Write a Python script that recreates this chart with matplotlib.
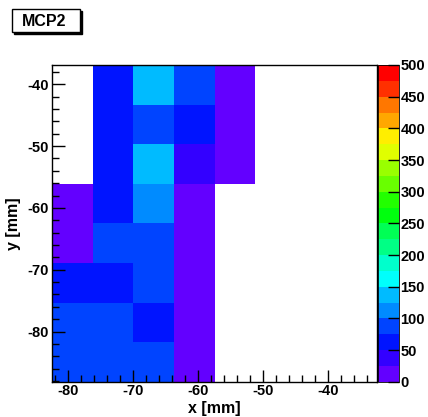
import colorsys
import matplotlib
matplotlib.use("Agg")
import matplotlib.pyplot as plt
import numpy as np
from matplotlib.colors import ListedColormap, BoundaryNorm
from matplotlib.patches import Rectangle
from matplotlib.ticker import MultipleLocator

plt.rcParams['font.family'] = ['Liberation Sans', 'DejaVu Sans']
plt.rcParams['font.weight'] = 'bold'
plt.rcParams['axes.labelweight'] = 'bold'
plt.rcParams['axes.unicode_minus'] = False

# bin edges (mm)
x_edges = [-82.5, -76.25, -70.0, -63.75, -57.5, -51.25, -45.0, -38.75, -32.5]
y_edges = [-88.1, -81.7, -75.3, -68.9, -62.5, -56.1, -49.7, -43.3, -36.9]

# counts per bin, rows from bottom (y=-88) to top, columns left to right
counts = [
    [80, 90, 84, 11, 0, 0, 0, 0],
    [82, 85, 60, 13, 0, 0, 0, 0],
    [55, 63, 86, 16, 0, 0, 0, 0],
    [14, 88, 92, 20, 0, 0, 0, 0],
    [8, 58, 110, 18, 0, 0, 0, 0],
    [0, 62, 145, 40, 15, 0, 0, 0],
    [0, 60, 85, 65, 12, 0, 0, 0],
    [0, 60, 140, 90, 10, 0, 0, 0],
]

title = "MCP2"
z_levels = np.arange(0, 525, 25)

# ROOT style "pretty" palette (50 hues, violet -> red), sampled on 20 contours
pretty = [colorsys.hls_to_rgb((280 - (i + 1) * 5.6) / 360.0, 0.5, 1.0) for i in range(50)]
ncont = len(z_levels) - 1
pal = [pretty[int((j + 0.99) * 50 / ncont)] for j in range(ncont)]
cmap = ListedColormap(pal)
cmap.set_bad("white")
norm = BoundaryNorm(z_levels, cmap.N)

fig = plt.figure(figsize=(4.28, 4.17), dpi=100)
ax = fig.add_axes([52 / 428, 1 - 381.7 / 417, 325 / 428, 316.7 / 417])
cax = fig.add_axes([378 / 428, 1 - 381.7 / 417, 21 / 428, 316.7 / 417])

z = np.ma.masked_less_equal(np.array(counts, dtype=float), 0)
mesh = ax.pcolormesh(x_edges, y_edges, z, cmap=cmap, norm=norm)
ax.set_xlim(x_edges[0], x_edges[-1])
ax.set_ylim(y_edges[0], y_edges[-1])

ax.xaxis.set_major_locator(MultipleLocator(10))
ax.xaxis.set_minor_locator(MultipleLocator(2))
ax.yaxis.set_major_locator(MultipleLocator(10))
ax.yaxis.set_minor_locator(MultipleLocator(2))
ax.tick_params(which="both", direction="in", top=False, right=False, width=1.0,
               labelsize=10.5, pad=2)
ax.tick_params(which="major", length=9)
ax.tick_params(which="minor", length=5)
for s in ax.spines.values():
    s.set_linewidth(1.0)

ax.set_xlabel("x [mm]", fontsize=11.5, labelpad=2)
ax.set_ylabel("y [mm]", fontsize=11.5, labelpad=5)

cb = fig.colorbar(mesh, cax=cax, ticks=np.arange(0, 550, 50))
cb.outline.set_linewidth(0.6)
cax.tick_params(which="both", direction="in", length=8, width=1.0, labelsize=10.5, pad=1)
cax.minorticks_off()

# title box with drop shadow
fig.patches.append(Rectangle((14 / 428, 1 - 34 / 417), 68 / 428, 23 / 417,
                             transform=fig.transFigure, facecolor="black",
                             edgecolor="black", lw=1.0))
fig.patches.append(Rectangle((12 / 428, 1 - 32 / 417), 68 / 428, 23 / 417,
                             transform=fig.transFigure, facecolor="white",
                             edgecolor="black", lw=1.0))
fig.text(44 / 428, 1 - 21 / 417, title, ha="center", va="center",
         fontsize=11.5, fontweight="bold")

fig.savefig("out.png", dpi=100)
